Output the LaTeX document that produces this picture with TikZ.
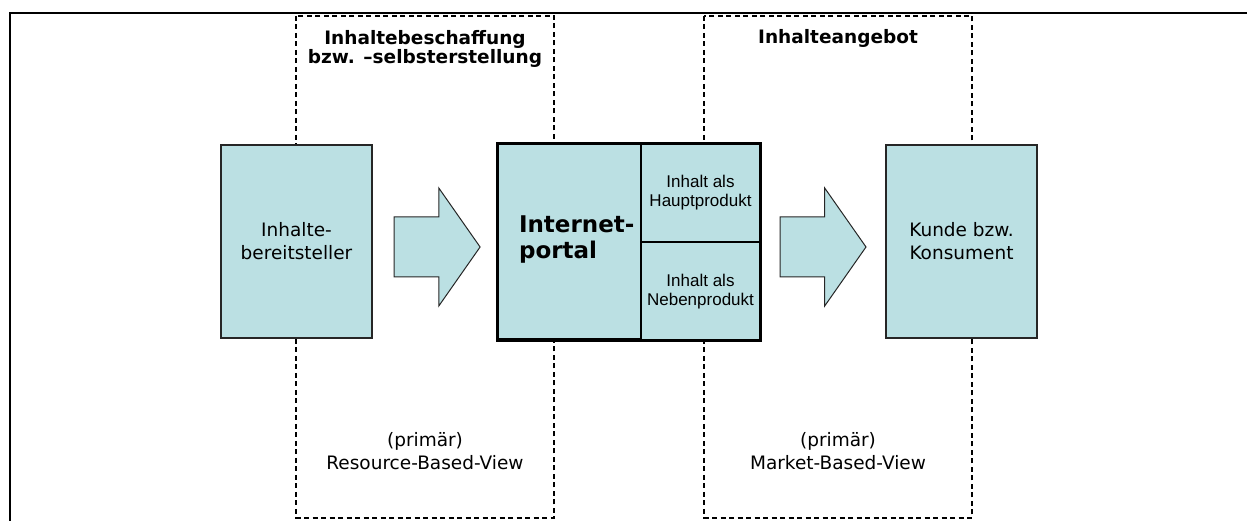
\documentclass[tikz,border=0pt]{standalone}
\usepackage{fontspec}
\setmainfont{DejaVu Sans}
\newfontfamily\cellfont{Liberation Sans}
\usepackage{tikz}
\usetikzlibrary{shapes.arrows, positioning, calc}
\definecolor{boxblue}{RGB}{187,224,227}

\tikzset{
  actor/.style={rectangle, draw=black!85, line width=1.2pt, fill=boxblue,
    minimum width=151pt, minimum height=193pt, align=center,
    font=\fontsize{18.5}{23}\selectfont},
  flow/.style={single arrow, draw=black!85, line width=1pt, fill=boxblue,
    minimum height=86pt, inner xsep=0pt, inner ysep=29.5pt,
    single arrow head extend=29pt, single arrow tip angle=110},
  zone/.style={dash pattern=on 5pt off 3.5pt, line width=1.1pt},
  cell/.style={rectangle, draw, line width=1pt, fill=boxblue, inner sep=0pt},
  title/.style={align=center, font=\bfseries\fontsize{18.5}{19}\selectfont},
  view/.style={align=center, font=\fontsize{18.5}{23}\selectfont},
  part/.style={align=center, font=\cellfont\fontsize{17}{19}\selectfont}
}

\begin{document}
\begin{tikzpicture}[x=1pt, y=1pt]
    \useasboundingbox (0,0) rectangle (1247,521);

    % Outer frame (top and left edge only)
    \draw[line width=2pt] (1247,508) -- (10,508) -- (10,0);

    % Dashed zones for the two views
    \draw[zone] (296,505) rectangle (554,3);
    \draw[zone] (704,505) rectangle (972,3);
    \node[title] (beschaffung) at (425,472.5) {Inhaltebeschaffung\\bzw. –selbsterstellung};
    \node[title] (angebot) at (838,482.5) {Inhalteangebot};
    \node[view] (rbv) at (425,69.5) {(primär)\\Resource-Based-View};
    \node[view] (mbv) at (838,69.5) {(primär)\\Market-Based-View};

    % Provider and customer
    \node[actor] (bereit) at (296.5,279.5) {Inhalte-\\bereitsteller};
    \node[actor] (kunde) at (961.5,279.5) {Kunde bzw.\\Konsument};

    % The portal with its two cells
    \node[cell, minimum width=142pt, minimum height=195pt] (portal) at (569,279.5) {};
    \node[cell, minimum width=119pt, minimum height=97.5pt, anchor=north west] (haupt) at (portal.north east) {};
    \node[cell, minimum width=119pt, minimum height=97.5pt, anchor=north west] (neben) at (haupt.south west) {};
    \draw[line width=3pt] (portal.north west) rectangle (neben.south east);
    \node[anchor=west, align=left, font=\bfseries\fontsize{23}{26}\selectfont] (portaltext) at ([xshift=18pt, yshift=2pt]portal.west) {Internet-\\portal};
    \node[part] (hauptext) at (haupt) {Inhalt als\\Hauptprodukt};
    \node[part] (nebentext) at (neben) {Inhalt als\\Nebenprodukt};

    % Block arrows between the boxes
    \node[flow, anchor=tail] (flow1) at ([xshift=21pt, yshift=-5.5pt]bereit.east) {};
    \node[flow, anchor=tail] (flow2) at ($(haupt.east |- portal.east)+(19pt,-5.5pt)$) {};
\end{tikzpicture}
\end{document}
